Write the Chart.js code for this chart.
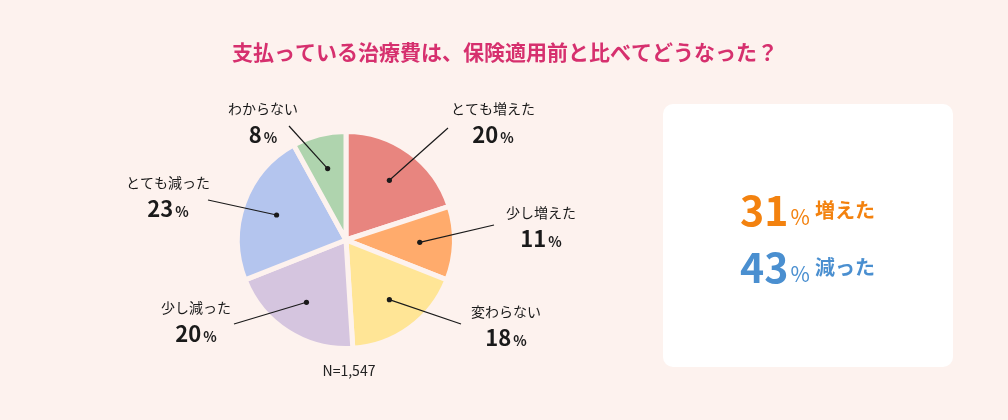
<!DOCTYPE html>
<html lang="ja">
<head>
<meta charset="utf-8">
<script src="https://cdn.jsdelivr.net/npm/chart.js@4.4.1/dist/chart.umd.min.js"></script>
<style>
    html, body { margin: 0; padding: 0; background: #fdf2ee; }
    #wrap { position: relative; width: 1008px; height: 420px; }
</style>
</head>
<body>
<div id="wrap"><canvas id="pieChart" width="1008" height="420"></canvas></div>
<script>
// 治療費アンケート - pie chart

const categories = ['とても増えた', '少し増えた', '変わらない', '少し減った', 'とても減った', 'わからない'];
const shares = [20, 11, 18, 20, 23, 8];
const sliceColors = ['#e8857f', '#ffab6c', '#ffe596', '#d5c5df', '#b4c5ee', '#afd4ae'];

const summaryLabels = ['増えた', '減った'];
const summaryValues = [31, 43];
const summaryColors = ['#f3820f', '#4a8fd0'];

const titleText = '支払っている治療費は、保険適用前と比べてどうなった？';
const sampleText = 'N=1,547';

// label layout, offsets from the pie centre
const labelLineEnds = [[102, -112], [148, -15], [115, 84], [-112, 84], [-138, -40], [-57, -114]];
const labelCentres = [[147, -131], [195, -27], [160, 72], [-150, 68], [-178, -57], [-83, -131]];

const JP = '"Noto Sans CJK JP", "Noto Sans", sans-serif';
const BG = '#fdf2ee';

function drawPercent(ctx, value, cx, cy, digitSize, pctSize, color) {
    ctx.font = `bold ${digitSize}px ${JP}`;
    const dw = ctx.measureText(String(value)).width;
    ctx.font = `bold ${pctSize}px ${JP}`;
    const pw = ctx.measureText('%').width;
    const left = cx - (dw + 2 + pw) / 2;
    ctx.fillStyle = color;
    ctx.textAlign = 'left';
    ctx.textBaseline = 'alphabetic';
    ctx.font = `bold ${digitSize}px ${JP}`;
    ctx.fillText(String(value), left, cy);
    ctx.font = `bold ${pctSize}px ${JP}`;
    ctx.fillText('%', left + dw + 2, cy);
}

const backdrop = {
    id: 'backdrop',
    beforeDraw(chart) {
        const ctx = chart.ctx;
        ctx.save();
        ctx.fillStyle = BG;
        ctx.fillRect(0, 0, chart.width, chart.height);

        // title
        ctx.fillStyle = '#d6306e';
        ctx.font = `bold 21px ${JP}`;
        ctx.textAlign = 'center';
        ctx.textBaseline = 'middle';
        ctx.fillText(titleText, 505, 52);

        // summary box
        ctx.fillStyle = '#ffffff';
        ctx.beginPath();
        ctx.roundRect(663, 104, 290, 263, 10);
        ctx.fill();

        summaryValues.forEach((v, i) => {
            const base = 226 + i * 57;
            ctx.fillStyle = summaryColors[i];
            ctx.textAlign = 'left';
            ctx.textBaseline = 'alphabetic';
            ctx.font = `bold 41px ${JP}`;
            ctx.fillText(String(v), 740, base);
            const dw = ctx.measureText(String(v)).width;
            ctx.font = `21px ${JP}`;
            ctx.fillText('%', 741 + dw + 1, base - 1);
            ctx.font = `bold 20px ${JP}`;
            ctx.textBaseline = 'middle';
            ctx.fillText(summaryLabels[i], 815, base - 16);
        });

        // sample size
        ctx.fillStyle = '#222';
        ctx.font = `14px ${JP}`;
        ctx.textAlign = 'center';
        ctx.textBaseline = 'middle';
        ctx.fillText(sampleText, 349, 371);
        ctx.restore();
    }
};

const leaderLabels = {
    id: 'leaderLabels',
    afterDatasetsDraw(chart) {
        const ctx = chart.ctx;
        const arcs = chart.getDatasetMeta(0).data;
        ctx.save();
        arcs.forEach((arc, i) => {
            const {x, y, startAngle, endAngle, outerRadius} = arc.getProps(['x', 'y', 'startAngle', 'endAngle', 'outerRadius'], true);
            const mid = (startAngle + endAngle) / 2;
            const dx = x + Math.cos(mid) * outerRadius * 0.68;
            const dy = y + Math.sin(mid) * outerRadius * 0.68;
            const end = labelLineEnds[i];

            ctx.strokeStyle = '#1a1a1a';
            ctx.lineWidth = 1.2;
            ctx.beginPath();
            ctx.moveTo(dx, dy);
            ctx.lineTo(x + end[0], y + end[1]);
            ctx.stroke();

            ctx.fillStyle = '#1a1a1a';
            ctx.beginPath();
            ctx.arc(dx, dy, 2.6, 0, Math.PI * 2);
            ctx.fill();

            const c = labelCentres[i];
            ctx.fillStyle = '#1a1a1a';
            ctx.font = `14px ${JP}`;
            ctx.textAlign = 'center';
            ctx.textBaseline = 'middle';
            ctx.fillText(categories[i], x + c[0], y + c[1]);
            drawPercent(ctx, shares[i], x + c[0], y + c[1] + 34, 22, 14, '#1a1a1a');
        });
        ctx.restore();
    }
};

const pieCtx = document.getElementById('pieChart').getContext('2d');
new Chart(pieCtx, {
    type: 'pie',
    data: {
        labels: categories,
        datasets: [{
            data: shares,
            backgroundColor: sliceColors,
            borderColor: BG,
            borderWidth: 5,
            hoverOffset: 0
        }]
    },
    options: {
        responsive: false,
        animation: false,
        layout: {
            padding: { left: 235, right: 551, top: 129, bottom: 69 }
        },
        plugins: {
            legend: { display: false },
            tooltip: { enabled: false }
        }
    },
    plugins: [backdrop, leaderLabels]
});
</script>
</body>
</html>
